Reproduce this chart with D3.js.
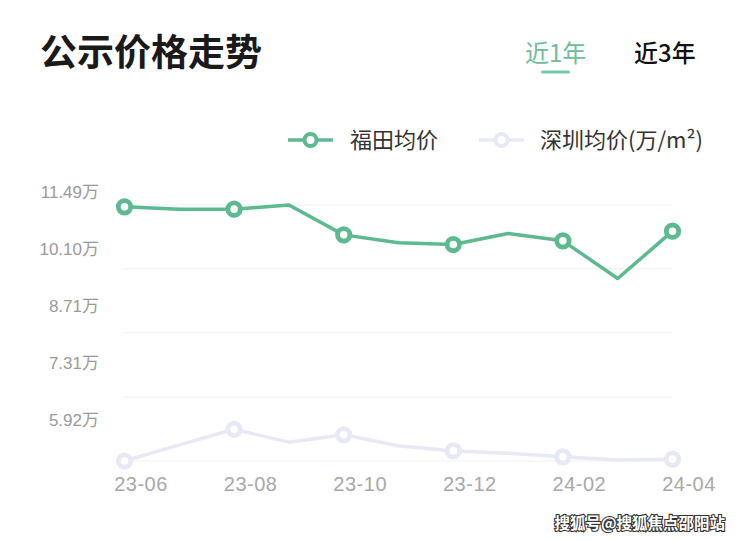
<!DOCTYPE html>
<html><head><meta charset="utf-8">
<script src="https://cdn.jsdelivr.net/npm/d3@7"></script>
<style>
html,body{margin:0;padding:0;background:#fff;}
svg{display:block;font-family:"Liberation Sans","Noto Sans CJK SC",sans-serif;}
</style></head>
<body><svg id="c" width="740" height="540"></svg>
<script>
const months = ["23-06","23-07","23-08","23-09","23-10","23-11","23-12","24-01","24-02","24-03","24-04"];
const futianValues = [11.45,11.40,11.40,11.49,10.84,10.67,10.63,10.87,10.71,9.89,10.92];
const shenzhenValues = [5.92,6.27,6.61,6.33,6.49,6.25,6.14,6.09,6.01,5.94,5.96];
const xTickLabels = ["23-06","23-08","23-10","23-12","24-02","24-04"];
const yTickValues = [11.49,10.10,8.71,7.31,5.92];
const seriesNames = ["福田均价","深圳均价(万/m²)"];

const svg = d3.select("#c");
const green = "#5db98f", grey = "#e7eaf4";

const x = d3.scalePoint().domain(months).range([124.5, 672.5]);
const y = d3.scaleLinear().domain([5.92, 11.49]).range([461, 205]);
const yLab = d3.scaleLinear().domain([5.92, 11.49]).range([420, 191.7]);

// title
svg.append("text").attr("x",40).attr("y",66).attr("font-size",37).attr("font-weight",700)
  .attr("fill","#1a1a1a").attr("font-family","Noto Sans CJK SC").text("公示价格走势");
svg.append("text").attr("x",525).attr("y",62).attr("font-size",24).attr("fill","#6dbd9c")
  .attr("font-family","Noto Sans CJK SC").text("近1年");
svg.append("rect").attr("x",541).attr("y",70.5).attr("width",29).attr("height",3).attr("rx",1.5).attr("fill","#78c8ab");
svg.append("text").attr("x",634).attr("y",62).attr("font-size",24).attr("font-weight",500).attr("fill","#111")
  .attr("font-family","Noto Sans CJK SC").text("近3年");

// legend
const leg = [{x:288, c:green, t:seriesNames[0], tx:350},{x:479, c:grey, t:seriesNames[1], tx:540}];
leg.forEach(l=>{
  const g = svg.append("g");
  g.append("line").attr("x1",l.x).attr("x2",l.x+45).attr("y1",140).attr("y2",140).attr("stroke",l.c).attr("stroke-width",3.5);
  g.append("circle").attr("cx",l.x+22.5).attr("cy",140).attr("r",6).attr("fill","#fff").attr("stroke",l.c).attr("stroke-width",4);
  g.append("text").attr("x",l.tx).attr("y",148).attr("font-size",22).attr("fill","#333")
    .attr("font-family","Noto Sans CJK SC").text(l.t);
});

// grid
svg.append("g").selectAll("line").data(yTickValues).join("line")
  .attr("x1",124).attr("x2",672).attr("y1",d=>y(d)).attr("y2",d=>y(d))
  .attr("stroke","#f1f1f1").attr("stroke-width",1.2);

// y labels
const yAxis = svg.append("g").attr("transform","translate(99,0)")
  .call(d3.axisLeft(yLab).tickValues(yTickValues).tickSize(0).tickPadding(0).tickFormat(d=>d.toFixed(2)+"万"));
yAxis.select(".domain").remove();
yAxis.selectAll("text").attr("font-size",17).attr("fill","#9a9a9a").attr("font-family","Liberation Sans, Noto Sans CJK SC");

// x labels
const xAxis = svg.append("g").attr("transform","translate(16,477)")
  .call(d3.axisBottom(x).tickValues(xTickLabels).tickSize(0).tickPadding(0));
xAxis.select(".domain").remove();
xAxis.selectAll("text").attr("font-size",20).attr("fill","#a8a8a8").attr("dy","0.72em")
  .attr("letter-spacing","0.5px").attr("font-family","Liberation Sans");

// lines
const line = d3.line().x((d,i)=>x(months[i])).y(d=>y(d));
function drawSeries(vals, col){
  svg.append("path").datum(vals).attr("d",line).attr("fill","none").attr("stroke",col)
    .attr("stroke-width",3.5).attr("stroke-linejoin","round");
  svg.append("g").selectAll("circle").data(vals.map((v,i)=>({v,m:months[i]})).filter(d=>xTickLabels.includes(d.m)))
    .join("circle").attr("cx",d=>x(d.m)).attr("cy",d=>y(d.v)).attr("r",6.2)
    .attr("fill","#fff").attr("stroke",col).attr("stroke-width",4.8);
}
drawSeries(shenzhenValues, grey);
drawSeries(futianValues, green);

// watermark
svg.append("text").attr("x",725).attr("y",529).attr("text-anchor","end").attr("font-size",15.5).attr("font-weight",700)
  .attr("fill","#fff").attr("stroke","#333").attr("stroke-width",2.2).attr("paint-order","stroke")
  .attr("font-family","Noto Sans CJK SC").text("搜狐号@搜狐焦点邵阳站");
</script></body></html>
